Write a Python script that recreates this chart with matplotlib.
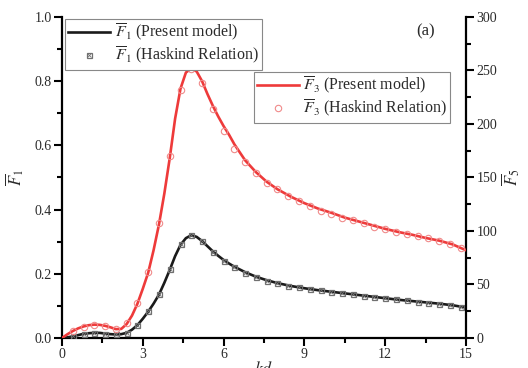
import matplotlib
matplotlib.use("Agg")
import matplotlib.pyplot as plt
from matplotlib.ticker import MultipleLocator
from matplotlib.lines import Line2D

plt.rcParams["font.family"] = ["Liberation Serif", "DejaVu Serif"]
plt.rcParams["mathtext.fontset"] = "stix"

# Present model curves
kd_line = [0.0, 0.2, 0.4, 0.6, 0.8, 1.0, 1.2, 1.4, 1.6, 1.8, 2.0, 2.2, 2.4, 2.6,
           2.8, 3.0, 3.2, 3.4, 3.6, 3.8, 4.0, 4.2, 4.4, 4.6, 4.8, 5.0, 5.2, 5.4,
           5.6, 5.8, 6.0, 6.2, 6.4, 6.8, 7.2, 7.6, 8.0, 8.5, 9.0, 9.5, 10.0,
           10.5, 11.0, 11.5, 12.0, 12.5, 13.0, 13.5, 14.0, 14.5, 15.0]
f1_line = [0.000, 0.002, 0.005, 0.009, 0.013, 0.015, 0.016, 0.016, 0.014, 0.012,
           0.011, 0.012, 0.016, 0.026, 0.040, 0.060, 0.082, 0.107, 0.135, 0.172,
           0.212, 0.255, 0.290, 0.311, 0.320, 0.315, 0.302, 0.286, 0.270, 0.256,
           0.243, 0.232, 0.222, 0.205, 0.191, 0.180, 0.171, 0.162, 0.155, 0.149,
           0.144, 0.139, 0.134, 0.129, 0.124, 0.119, 0.115, 0.111, 0.107, 0.102,
           0.095]
f3_line = [0.0, 3.5, 6.5, 9.0, 10.8, 12.0, 12.5, 12.3, 11.4, 10.0, 8.3, 8.5, 13.0,
           21.0, 32.0, 46.0, 61.0, 82.0, 106.0, 135.0, 168.0, 205.0, 233.0, 248.0,
           252.0, 249.0, 240.0, 228.0, 217.0, 207.0, 198.0, 190.0, 181.0, 166.0,
           155.0, 146.0, 139.0, 132.0, 126.0, 121.0, 117.0, 112.5, 109.0, 105.5,
           102.0, 99.0, 96.5, 93.5, 91.0, 87.5, 82.0]

# Haskind relation results
kd_hask = [0.4, 0.8, 1.2, 1.6, 2.0, 2.4, 2.8, 3.2, 3.6, 4.0, 4.4, 4.8, 5.2, 5.6,
           6.0, 6.4, 6.8, 7.2, 7.6, 8.0, 8.4, 8.8, 9.2, 9.6, 10.0, 10.4, 10.8,
           11.2, 11.6, 12.0, 12.4, 12.8, 13.2, 13.6, 14.0, 14.4, 14.8]
f1_hask = [0.005, 0.013, 0.016, 0.014, 0.011, 0.016, 0.041, 0.083, 0.136, 0.214,
           0.293, 0.320, 0.301, 0.269, 0.241, 0.220, 0.204, 0.189, 0.178, 0.170,
           0.163, 0.158, 0.153, 0.148, 0.144, 0.140, 0.136, 0.132, 0.128, 0.124,
           0.120, 0.117, 0.113, 0.110, 0.107, 0.103, 0.098]
f3_hask = [6.3, 10.4, 12.5, 11.3, 8.3, 14.0, 33.0, 62.0, 107.0, 170.0, 232.0,
           251.0, 238.0, 214.0, 193.0, 177.0, 164.0, 154.0, 145.0, 139.0, 133.0,
           128.0, 123.5, 119.0, 116.0, 112.5, 110.0, 107.0, 104.0, 101.5, 99.5,
           97.5, 95.5, 93.0, 90.5, 88.0, 84.5]

black = "#1a1a1a"
red = "#ee3a3a"
pink = "#f08a8a"
grey = "#707070"
text_col = "#2a2a2a"

fig = plt.figure(figsize=(5.28, 3.68), dpi=100)
ax = fig.add_axes([0.1174, 0.0815, 0.7652, 0.8725])
ax2 = ax.twinx()

ax.plot(kd_line, f1_line, color=black, lw=1.9, zorder=3)
ax.plot(kd_hask, f1_hask, ls="none", marker="s", ms=3.6, mfc="none",
        mec=grey, mew=0.9, zorder=4)
ax.plot(kd_hask, f1_hask, ls="none", marker="x", ms=2.6, mec=grey,
        mew=0.6, zorder=4)

ax2.plot(kd_line, f3_line, color=red, lw=1.9, zorder=3)
ax2.plot(kd_hask, f3_hask, ls="none", marker="o", ms=4.6, mfc="none",
         mec=pink, mew=0.8, zorder=4)

ax.set_xlim(0, 15)
ax.set_ylim(0, 1.0)
ax2.set_ylim(0, 300)

ax.xaxis.set_minor_locator(MultipleLocator(1.5))
ax.yaxis.set_minor_locator(MultipleLocator(0.1))
ax2.yaxis.set_major_locator(MultipleLocator(50))
ax2.yaxis.set_minor_locator(MultipleLocator(25))

ax.set_xticks([0, 3, 6, 9, 12, 15])
ax.set_xticklabels(["0", "3", "6", "9", "12", "15"])
ax.set_yticks([0, 0.2, 0.4, 0.6, 0.8, 1.0])
ax.set_yticklabels(["0.0", "0.2", "0.4", "0.6", "0.8", "1.0"])

for a in (ax, ax2):
    a.spines["top"].set_visible(False)
    for s in a.spines.values():
        s.set_linewidth(1.6)
    a.tick_params(which="major", direction="out", length=5.5, width=1.5,
                  labelsize=10, pad=2, labelcolor=text_col)
    a.tick_params(which="minor", direction="out", length=3.5, width=1.5)
ax.spines["right"].set_visible(False)
ax2.spines["left"].set_visible(False)
ax2.spines["bottom"].set_visible(False)

ax.set_ylabel(r"$\overline{F}_1$", fontsize=12, labelpad=6, color=text_col)
ax2.set_ylabel(r"$\overline{F}_5$", fontsize=12, labelpad=2, color=text_col)
ax.set_xlabel(r"$kd$", fontsize=13, labelpad=0, color=text_col)

ax2.text(0.9, 0.955, "(a)", transform=ax2.transAxes, fontsize=12,
         ha="center", va="center", color=text_col)

legend_style = dict(fontsize=11.5, frameon=True, fancybox=False,
                    edgecolor="#888888", framealpha=1.0,
                    handlelength=2.6, handletextpad=0.3, borderpad=0.2,
                    labelspacing=0.15)

h1 = Line2D([], [], color=black, lw=1.9)
h1m = (Line2D([], [], ls="none", marker="s", ms=3.6, mfc="none", mec=grey, mew=0.9),
       Line2D([], [], ls="none", marker="x", ms=2.6, mec=grey, mew=0.6))
leg1 = ax2.legend([h1, h1m],
                  [r"$\overline{F}_1$ (Present model)", r"$\overline{F}_1$ (Haskind Relation)"],
                  loc="upper left", bbox_to_anchor=(0.0, 1.005),
                  borderaxespad=0.2, **legend_style)
leg1.get_frame().set_linewidth(0.8)
for t in leg1.get_texts():
    t.set_color(text_col)
ax2.add_artist(leg1)

h3 = Line2D([], [], color=red, lw=1.9)
h3m = Line2D([], [], ls="none", marker="o", ms=4.6, mfc="none", mec=pink, mew=0.8)
leg2 = ax2.legend([h3, h3m],
                  [r"$\overline{F}_3$ (Present model)", r"$\overline{F}_3$ (Haskind Relation)"],
                  loc="upper left", bbox_to_anchor=(0.475, 0.83),
                  borderaxespad=0.0, **legend_style)
leg2.get_frame().set_linewidth(0.8)
for t in leg2.get_texts():
    t.set_color(text_col)

fig.savefig("out.png", dpi=100)
